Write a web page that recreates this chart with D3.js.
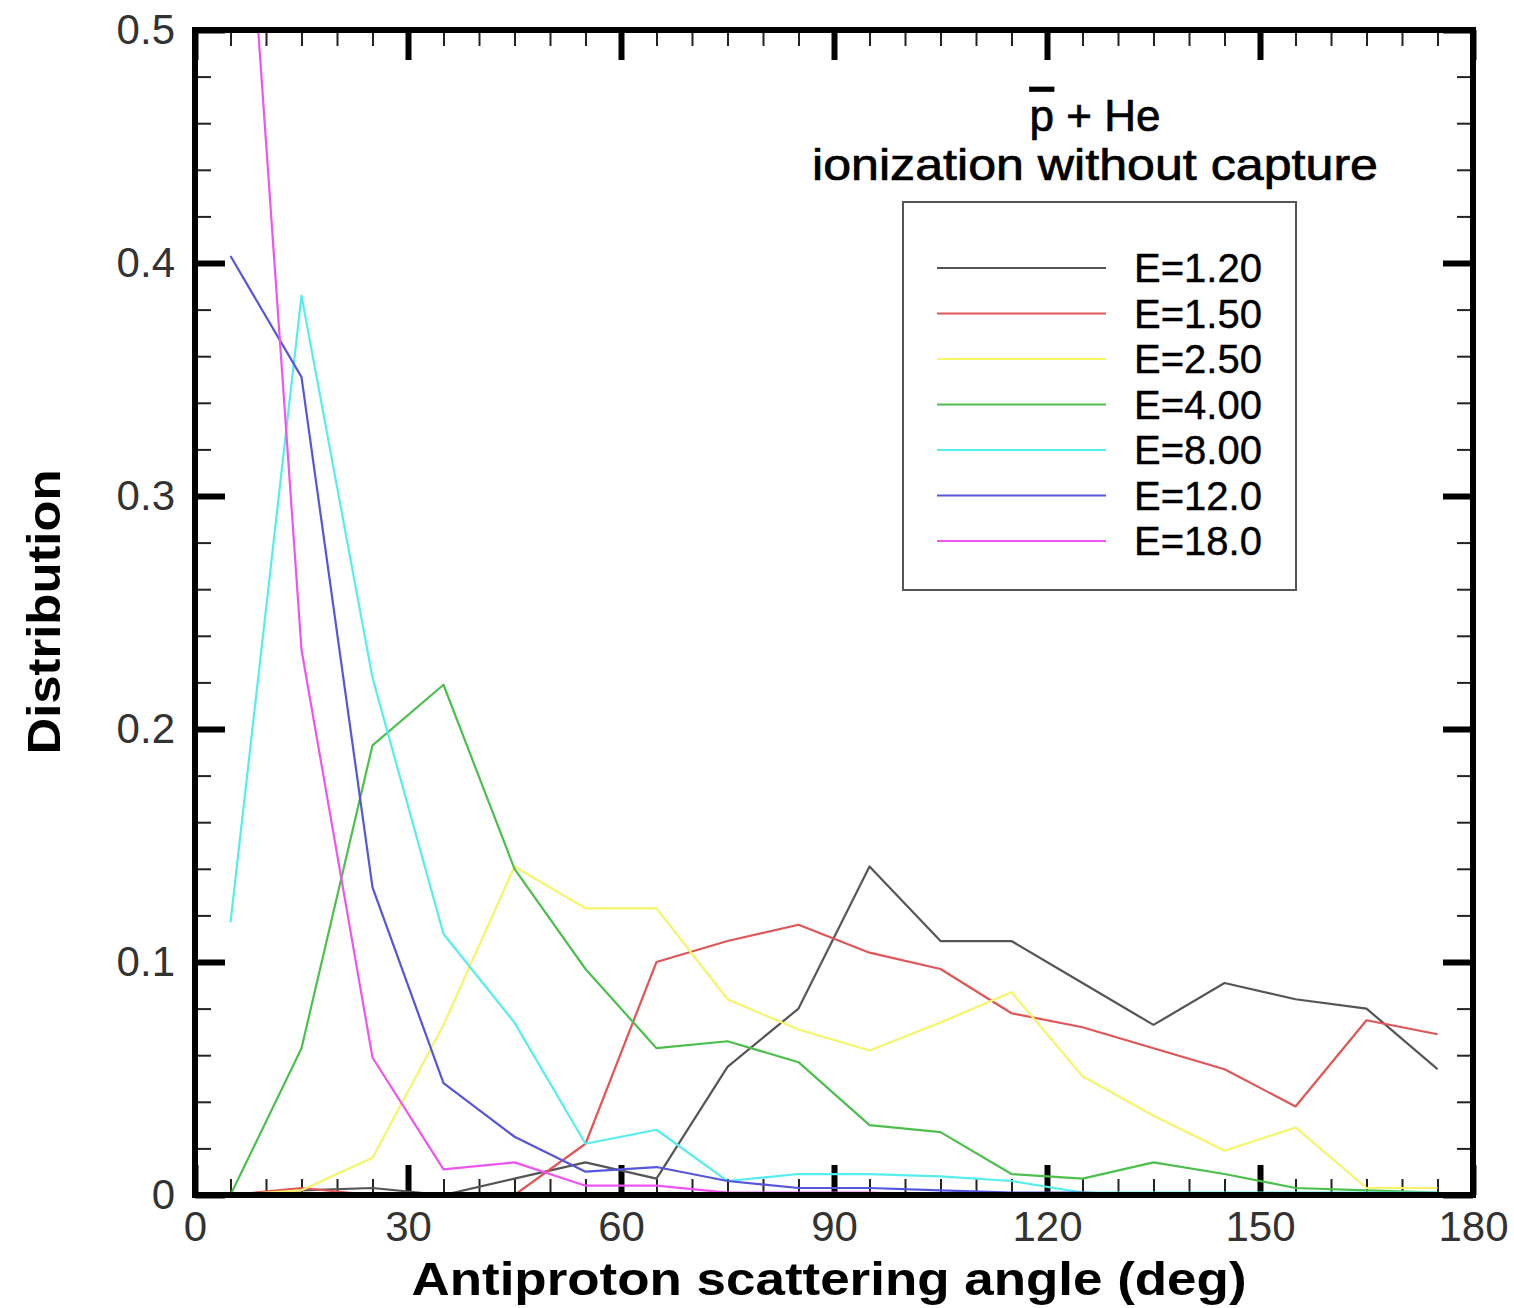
<!DOCTYPE html>
<html>
<head>
<meta charset="utf-8">
<script src="https://cdn.jsdelivr.net/npm/d3@7"></script>
<style>
	body { margin: 0; background: #fff; }
	svg { display: block; }
	text { font-family: "Liberation Sans", Arial, sans-serif; }
</style>
</head>
<body>
<svg id="chart"></svg>
<script>
// scattering angle bins (deg)
const angles = [5, 15, 25, 35, 45, 55, 65, 75, 85, 95, 105, 115, 125, 135, 145, 155, 165, 175];

const energies = ["E=1.20", "E=1.50", "E=2.50", "E=4.00", "E=8.00", "E=12.0", "E=18.0"];
const lineColors = ["#555555", "#e05555", "#f5f56a", "#4cbf4c", "#55eeee", "#5555dd", "#ee55ee"];

const distE120 = [0, 0.002, 0.003, 0, 0.007, 0.014, 0.007, 0.055, 0.080, 0.141, 0.109, 0.109, 0.091, 0.073, 0.091, 0.084, 0.080, 0.054];
const distE150 = [0, 0.003, 0, 0, 0, 0.022, 0.100, 0.109, 0.116, 0.104, 0.097, 0.078, 0.072, 0.063, 0.054, 0.038, 0.075, 0.069];
const distE250 = [0, 0.002, 0.016, 0.073, 0.141, 0.123, 0.123, 0.084, 0.071, 0.062, 0.074, 0.087, 0.051, 0.034, 0.019, 0.029, 0.003, 0.003];
const distE400 = [0, 0.063, 0.193, 0.219, 0.140, 0.097, 0.063, 0.066, 0.057, 0.030, 0.027, 0.009, 0.007, 0.014, 0.009, 0.003, 0.002, 0.001];
const distE800 = [0.117, 0.386, 0.222, 0.112, 0.074, 0.022, 0.028, 0.006, 0.009, 0.009, 0.008, 0.006, 0.001, 0.001, 0.001, 0.001, 0.001, 0.001];
const distE12 = [0.403, 0.351, 0.132, 0.048, 0.025, 0.010, 0.012, 0.006, 0.003, 0.003, 0.002, 0.001, 0.001, 0, 0, 0, 0, 0];
const distE18 = [0.67, 0.234, 0.059, 0.011, 0.014, 0.004, 0.004, 0.001, 0.001, 0.001, 0, 0, 0, 0, 0, 0, 0, 0];

const xTicks = [0, 30, 60, 90, 120, 150, 180];
const yTicks = [0, 0.1, 0.2, 0.3, 0.4, 0.5];
const yTickLabels = ["0", "0.1", "0.2", "0.3", "0.4", "0.5"];

const allSeries = [distE120, distE150, distE250, distE400, distE800, distE12, distE18];

const width = 1514;
const height = 1308;
const plotLeft = 195, plotRight = 1473, plotTop = 30, plotBottom = 1195;

const svg = d3.select("#chart").attr("width", width).attr("height", height);

const x = d3.scaleLinear().domain([0, 180]).range([plotLeft, plotRight]);
const y = d3.scaleLinear().domain([0, 0.5]).range([plotBottom, plotTop]);

svg.append("clipPath").attr("id", "plotClip")
	.append("rect")
	.attr("x", plotLeft).attr("y", plotTop)
	.attr("width", plotRight - plotLeft).attr("height", plotBottom - plotTop);

// minor ticks (inward, no labels)
const minorX = d3.range(0, 181, 5).filter((d) => d % 30 !== 0);
const minorY = d3.range(0, 0.5001, 0.02).filter((d) => Math.abs(d * 10 - Math.round(d * 10)) > 1e-6);

const styleMinor = (g) => {
	g.select(".domain").remove();
	g.selectAll("line").attr("stroke", "#222").attr("stroke-width", 2);
	g.selectAll("text").remove();
};
const styleMajor = (g) => {
	g.select(".domain").remove();
	g.selectAll("line").attr("stroke", "#000").attr("stroke-width", 6);
};

svg.append("g").attr("transform", `translate(0,${plotBottom})`)
	.call(d3.axisBottom(x).tickValues(minorX).tickSize(-16)).call(styleMinor);
svg.append("g").attr("transform", `translate(0,${plotTop})`)
	.call(d3.axisTop(x).tickValues(minorX).tickSize(-16)).call(styleMinor);
svg.append("g").attr("transform", `translate(${plotLeft},0)`)
	.call(d3.axisLeft(y).tickValues(minorY).tickSize(-16)).call(styleMinor);
svg.append("g").attr("transform", `translate(${plotRight},0)`)
	.call(d3.axisRight(y).tickValues(minorY).tickSize(-16)).call(styleMinor);

// major ticks
const xAxis = svg.append("g").attr("transform", `translate(0,${plotBottom})`)
	.call(d3.axisBottom(x).tickValues(xTicks).tickSize(-30).tickPadding(16).tickFormat(d3.format("d")))
	.call(styleMajor);
xAxis.selectAll("text")
	.attr("font-size", 42).attr("fill", "#333")
	.attr("font-family", "Liberation Sans, Arial, sans-serif");

svg.append("g").attr("transform", `translate(0,${plotTop})`)
	.call(d3.axisTop(x).tickValues(xTicks).tickSize(-30).tickFormat(""))
	.call(styleMajor);

const yAxis = svg.append("g").attr("transform", `translate(${plotLeft},0)`)
	.call(d3.axisLeft(y).tickValues(yTicks).tickSize(-30).tickPadding(20)
		.tickFormat((d, i) => yTickLabels[i]))
	.call(styleMajor);
yAxis.selectAll("text")
	.attr("font-size", 42).attr("fill", "#333")
	.attr("font-family", "Liberation Sans, Arial, sans-serif");

svg.append("g").attr("transform", `translate(${plotRight},0)`)
	.call(d3.axisRight(y).tickValues(yTicks).tickSize(-30).tickFormat(""))
	.call(styleMajor);

// series lines
const line = d3.line()
	.x((d) => x(d[0]))
	.y((d) => y(d[1]));

svg.append("g").attr("clip-path", "url(#plotClip)")
	.selectAll("path")
	.data(allSeries)
	.join("path")
	.attr("d", (s) => line(angles.map((a, i) => [a, s[i]])))
	.attr("fill", "none")
	.attr("stroke", (d, i) => lineColors[i])
	.attr("stroke-width", 2.2)
	.attr("stroke-linejoin", "round");

// frame
svg.append("rect")
	.attr("x", plotLeft).attr("y", plotTop)
	.attr("width", plotRight - plotLeft).attr("height", plotBottom - plotTop)
	.attr("fill", "none").attr("stroke", "#000").attr("stroke-width", 6);

// axis titles
svg.append("text")
	.attr("x", (plotLeft + plotRight) / 2 - 5).attr("y", 1295)
	.attr("text-anchor", "middle")
	.attr("font-size", 46).attr("font-weight", "bold")
	.attr("textLength", 835).attr("lengthAdjust", "spacingAndGlyphs")
	.text("Antiproton scattering angle (deg)");

svg.append("text")
	.attr("transform", `translate(60,612) rotate(-90)`)
	.attr("text-anchor", "middle")
	.attr("font-size", 46).attr("font-weight", "bold")
	.attr("textLength", 285).attr("lengthAdjust", "spacingAndGlyphs")
	.text("Distribution");

// annotation
const note = svg.append("text")
	.attr("x", 1095).attr("y", 131)
	.attr("text-anchor", "middle")
	.attr("font-size", 44)
	.attr("stroke", "#000").attr("stroke-width", 0.7);
note.append("tspan").style("text-decoration", "overline").text("p");
note.append("tspan").text(" + He");

svg.append("text")
	.attr("x", 1095).attr("y", 180)
	.attr("text-anchor", "middle")
	.attr("font-size", 44)
	.attr("stroke", "#000").attr("stroke-width", 0.7)
	.attr("textLength", 566).attr("lengthAdjust", "spacingAndGlyphs")
	.text("ionization without capture");

// legend
svg.append("rect")
	.attr("x", 903).attr("y", 202)
	.attr("width", 393).attr("height", 388)
	.attr("fill", "#fff").attr("stroke", "#555").attr("stroke-width", 2);

const legendItems = svg.append("g")
	.selectAll("g")
	.data(energies)
	.join("g")
	.attr("transform", (d, i) => `translate(0,${268 + i * 45.5})`);

legendItems.append("line")
	.attr("x1", 937).attr("x2", 1106)
	.attr("stroke", (d, i) => lineColors[i])
	.attr("stroke-width", 2.2);

legendItems.append("text")
	.attr("x", 1134).attr("y", 14)
	.attr("font-size", 40)
	.attr("stroke", "#000").attr("stroke-width", 0.4)
	.text((d) => d);
</script>
</body>
</html>
